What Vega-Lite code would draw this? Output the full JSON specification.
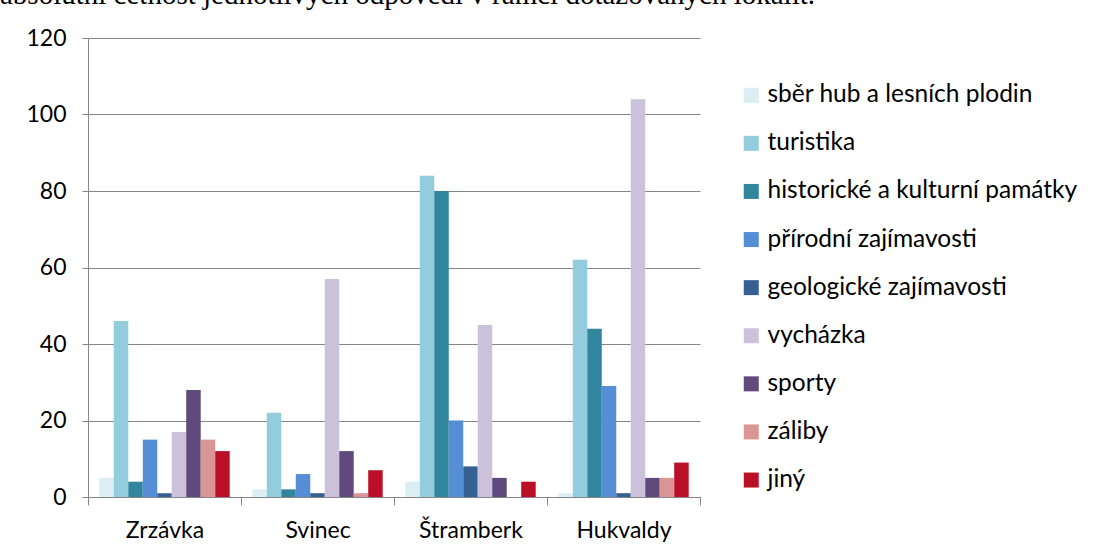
{
  "$schema": "https://vega.github.io/schema/vega-lite/v6.json",
  "width": 612,
  "height": 459,
  "autosize": {"type": "none"},
  "padding": {"left": 88, "top": 38, "right": 394, "bottom": 61},
  "background": "white",
  "title": {
    "text": "absolutní četnost jednotlivých odpovědí v rámci dotazovaných lokalit.",
    "anchor": "start",
    "frame": "group",
    "font": "Liberation Serif",
    "fontSize": 29,
    "fontWeight": "normal",
    "color": "black",
    "dx": -88,
    "dy": -17,
    "offset": 0
  },
  "data": {
    "values": [
      {"lokalita": "Zrzávka", "aktivita": "sběr hub a lesních plodin", "pocet": 5},
      {"lokalita": "Zrzávka", "aktivita": "turistika", "pocet": 46},
      {"lokalita": "Zrzávka", "aktivita": "historické a kulturní památky", "pocet": 4},
      {"lokalita": "Zrzávka", "aktivita": "přírodní zajímavosti", "pocet": 15},
      {"lokalita": "Zrzávka", "aktivita": "geologické zajímavosti", "pocet": 1},
      {"lokalita": "Zrzávka", "aktivita": "vycházka", "pocet": 17},
      {"lokalita": "Zrzávka", "aktivita": "sporty", "pocet": 28},
      {"lokalita": "Zrzávka", "aktivita": "záliby", "pocet": 15},
      {"lokalita": "Zrzávka", "aktivita": "jiný", "pocet": 12},
      {"lokalita": "Svinec", "aktivita": "sběr hub a lesních plodin", "pocet": 2},
      {"lokalita": "Svinec", "aktivita": "turistika", "pocet": 22},
      {"lokalita": "Svinec", "aktivita": "historické a kulturní památky", "pocet": 2},
      {"lokalita": "Svinec", "aktivita": "přírodní zajímavosti", "pocet": 6},
      {"lokalita": "Svinec", "aktivita": "geologické zajímavosti", "pocet": 1},
      {"lokalita": "Svinec", "aktivita": "vycházka", "pocet": 57},
      {"lokalita": "Svinec", "aktivita": "sporty", "pocet": 12},
      {"lokalita": "Svinec", "aktivita": "záliby", "pocet": 1},
      {"lokalita": "Svinec", "aktivita": "jiný", "pocet": 7},
      {"lokalita": "Štramberk", "aktivita": "sběr hub a lesních plodin", "pocet": 4},
      {"lokalita": "Štramberk", "aktivita": "turistika", "pocet": 84},
      {"lokalita": "Štramberk", "aktivita": "historické a kulturní památky", "pocet": 80},
      {"lokalita": "Štramberk", "aktivita": "přírodní zajímavosti", "pocet": 20},
      {"lokalita": "Štramberk", "aktivita": "geologické zajímavosti", "pocet": 8},
      {"lokalita": "Štramberk", "aktivita": "vycházka", "pocet": 45},
      {"lokalita": "Štramberk", "aktivita": "sporty", "pocet": 5},
      {"lokalita": "Štramberk", "aktivita": "záliby", "pocet": 0},
      {"lokalita": "Štramberk", "aktivita": "jiný", "pocet": 4},
      {"lokalita": "Hukvaldy", "aktivita": "sběr hub a lesních plodin", "pocet": 1},
      {"lokalita": "Hukvaldy", "aktivita": "turistika", "pocet": 62},
      {"lokalita": "Hukvaldy", "aktivita": "historické a kulturní památky", "pocet": 44},
      {"lokalita": "Hukvaldy", "aktivita": "přírodní zajímavosti", "pocet": 29},
      {"lokalita": "Hukvaldy", "aktivita": "geologické zajímavosti", "pocet": 1},
      {"lokalita": "Hukvaldy", "aktivita": "vycházka", "pocet": 104},
      {"lokalita": "Hukvaldy", "aktivita": "sporty", "pocet": 5},
      {"lokalita": "Hukvaldy", "aktivita": "záliby", "pocet": 5},
      {"lokalita": "Hukvaldy", "aktivita": "jiný", "pocet": 9}
    ]
  },
  "mark": {"type": "bar"},
  "encoding": {
    "x": {
      "field": "lokalita",
      "type": "nominal",
      "sort": ["Zrzávka", "Svinec", "Štramberk", "Hukvaldy"],
      "scale": {"paddingInner": 0, "paddingOuter": 0},
      "axis": {
        "title": null,
        "labelAngle": 0,
        "tickBand": "extent",
        "tickSize": 8,
        "tickColor": "#868686",
        "domainColor": "#868686",
        "labelFont": "Lato",
        "labelFontSize": 23,
        "labelColor": "black",
        "labelPadding": 14,
        "grid": false
      }
    },
    "xOffset": {
      "field": "aktivita",
      "type": "nominal",
      "sort": ["sběr hub a lesních plodin", "turistika", "historické a kulturní památky", "přírodní zajímavosti", "geologické zajímavosti", "vycházka", "sporty", "záliby", "jiný"],
      "scale": {"paddingInner": 0, "paddingOuter": 0.78}
    },
    "y": {
      "field": "pocet",
      "type": "quantitative",
      "scale": {"domain": [0, 120], "nice": false},
      "axis": {
        "title": null,
        "values": [0, 20, 40, 60, 80, 100, 120],
        "tickSize": 6,
        "tickColor": "#868686",
        "domainColor": "#868686",
        "gridColor": "#868686",
        "gridWidth": 1,
        "labelFont": "Lato",
        "labelFontSize": 23,
        "labelColor": "black",
        "labelPadding": 16
      }
    },
    "color": {
      "field": "aktivita",
      "type": "nominal",
      "sort": ["sběr hub a lesních plodin", "turistika", "historické a kulturní památky", "přírodní zajímavosti", "geologické zajímavosti", "vycházka", "sporty", "záliby", "jiný"],
      "scale": {
        "domain": ["sběr hub a lesních plodin", "turistika", "historické a kulturní památky", "přírodní zajímavosti", "geologické zajímavosti", "vycházka", "sporty", "záliby", "jiný"],
        "range": ["#DAEEF3", "#93CDDD", "#31859C", "#558ED5", "#376092", "#CCC1DA", "#604A7B", "#D99694", "#BA1027"]
      },
      "legend": {
        "title": null,
        "orient": "none",
        "legendX": 651,
        "legendY": 45,
        "padding": 0,
        "symbolType": "square",
        "symbolSize": 225,
        "symbolStrokeWidth": 0,
        "labelFont": "Lato",
        "labelFontSize": 24.5,
        "labelColor": "black",
        "labelOffset": 4,
        "rowPadding": 23.1,
        "labelLimit": 400
      }
    }
  },
  "config": {
    "view": {"stroke": null},
    "axis": {"domainWidth": 1, "tickWidth": 1}
  }
}
